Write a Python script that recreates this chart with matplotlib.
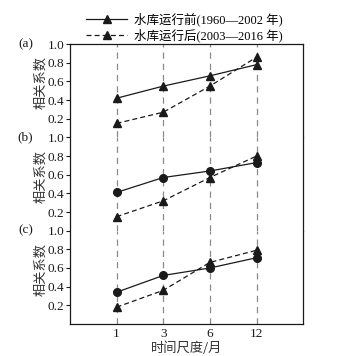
import matplotlib
matplotlib.use("Agg")
import matplotlib.pyplot as plt
from matplotlib.lines import Line2D

plt.rcParams['font.family'] = ['Liberation Serif', 'Noto Sans CJK SC']
plt.rcParams['axes.unicode_minus'] = False

scales = ["1", "3", "6", "12"]
panel_labels = ["(a)", "(b)", "(c)"]
before_a = [0.42, 0.55, 0.66, 0.78]
after_a = [0.15, 0.27, 0.55, 0.86]
before_b = [0.41, 0.57, 0.64, 0.73]
after_b = [0.15, 0.32, 0.57, 0.80]
before_c = [0.34, 0.52, 0.60, 0.71]
after_c = [0.18, 0.36, 0.66, 0.79]
before_markers = ["^", "o", "o"]
legend_before = "水库运行前(1960—2002 年)"
legend_after = "水库运行后(2003—2016 年)"
ylabel = "相关系数"
xlabel = "时间尺度/月"

before = [before_a, before_b, before_c]
after = [after_a, after_b, after_c]

fig = plt.figure(figsize=(3.41, 3.56), dpi=100)
left, right, top, bottom = 0.205, 0.889, 0.876, 0.090
h = (top - bottom) / 3
xs = list(range(len(scales)))
ink = "#1a1a1a"

for i in range(3):
    ax = fig.add_axes([left, top - (i + 1) * h, right - left, h])
    for x in xs:
        ax.axvline(x, color="#8a8a8a", lw=0.9, ls=(0, (5, 4)), zorder=0)
    ax.plot(xs, before[i], color=ink, lw=0.9, marker=before_markers[i],
            ms=6 if before_markers[i] == "^" else 5.5, zorder=3)
    ax.plot(xs, after[i], color=ink, lw=0.9, ls=(0, (4, 2.5)), marker="^",
            ms=6, zorder=3)
    ax.set_xlim(-1, 4)
    ax.set_ylim(0, 1.0)
    ax.set_yticks([0.2, 0.4, 0.6, 0.8, 1.0])
    ax.set_yticklabels(["0.2", "0.4", "0.6", "0.8", "1.0"], fontsize=9.5,
                       color=ink)
    ax.tick_params(axis="y", direction="out", length=3, width=0.8, pad=1,
                   color=ink)
    ax.set_ylabel(ylabel, family=["Noto Sans CJK SC"], fontsize=9.5,
                  color="#333333", va="center")
    ax.yaxis.set_label_coords(-0.125, 0.585)
    for s in ax.spines.values():
        s.set_linewidth(0.9)
        s.set_color(ink)
    if i > 0:
        ax.spines["top"].set_visible(False)
    if i < 2:
        ax.spines["bottom"].set_visible(False)
        ax.set_xticks([])
    else:
        ax.set_xticks(xs)
        ax.set_xticklabels(scales, fontsize=9.5, color=ink)
        ax.tick_params(axis="x", length=0, pad=3)
        ax.set_xlabel(xlabel, family=["Noto Sans CJK SC"], fontsize=9.5,
                      color="#333333", labelpad=1)
    ax.text(-0.19, 1.0, panel_labels[i], transform=ax.transAxes,
            fontsize=9.5, color=ink, ha="center", va="center")

handles = [
    Line2D([], [], color=ink, lw=0.9, marker="^", ms=6),
    Line2D([], [], color=ink, lw=0.9, ls=(0, (4, 2.5)), marker="^", ms=6),
]
fig.legend(handles, [legend_before, legend_after], loc="upper center",
           bbox_to_anchor=(0.54, 0.995), frameon=False,
           handlelength=3.3, handletextpad=0.5, labelspacing=0.15,
           prop={"family": ["Liberation Serif", "Noto Sans CJK SC"], "size": 9})

fig.savefig("out.png", dpi=100)
